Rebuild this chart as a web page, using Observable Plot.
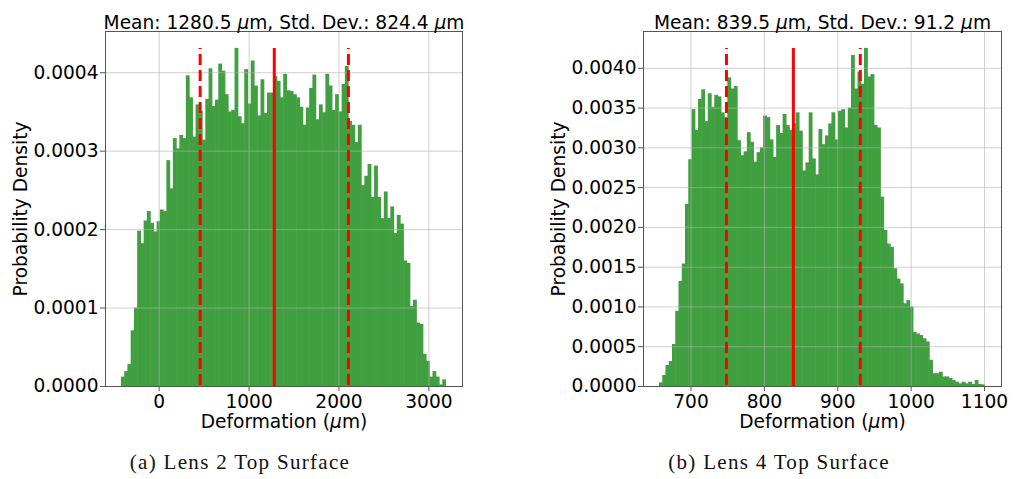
<!DOCTYPE html>
<html><head><meta charset="utf-8">
<script src="https://cdn.jsdelivr.net/npm/d3@7"></script>
<script src="https://cdn.jsdelivr.net/npm/@observablehq/plot@0.6"></script>
<style>
body{margin:0;background:#fff;}
#fig{position:relative;width:1013px;height:479px;overflow:hidden;background:#fff;}
.panel{position:absolute;top:0;}
.cap{position:absolute;top:452px;font-family:"Liberation Serif";font-size:21px;line-height:21px;letter-spacing:1.3px;transform:translateX(-50%);white-space:nowrap;color:#111;}
</style></head><body><div id="fig"></div>
<script>
// ---- Data ----
// Lens 2 Top Surface: histogram density, units of 1e-4 per µm, 100 equal bins
const lens2BinStart = -416, lens2BinEnd = 3193;
const lens2Density1e4 = [
 0.12,0.19,0.28,0.71,1.00,1.98,1.82,2.11,2.23,2.08,
 1.97,2.10,2.25,2.23,2.88,2.52,3.16,3.03,3.20,3.16,
 3.96,3.68,3.18,3.59,3.51,3.14,3.66,4.05,3.57,3.65,
 4.11,4.02,3.72,3.50,3.52,4.31,3.44,3.35,4.04,3.60,
 4.15,3.83,3.45,3.91,3.48,3.74,3.74,3.95,3.89,3.68,
 3.98,3.77,3.76,3.72,3.68,3.56,3.33,3.55,3.80,3.97,
 3.40,3.59,3.49,3.98,3.83,3.52,3.72,3.50,3.85,4.08,
 3.38,3.33,3.11,3.33,2.56,2.68,2.83,2.41,2.81,2.41,
 2.14,2.48,2.14,2.29,1.95,2.18,2.07,1.60,1.57,1.02,
 1.10,0.81,0.79,0.41,0.32,0.12,0.19,0.12,0.02,0.085];
const lens2Mean = 1280.5, lens2Std = 824.4;
const lens2XTicks = [0, 1000, 2000, 3000];
const lens2YTicks = [0, 0.0001, 0.0002, 0.0003, 0.0004];

// Lens 4 Top Surface: histogram density, units of 1e-3 per µm, 100 equal bins
const lens4BinStart = 657.4, lens4BinEnd = 1101;
const lens4Density1e3 = [
 0.046,0.138,0.264,0.314,0.528,0.946,1.32,1.54,2.29,2.85,
 3.48,3.22,3.61,3.73,3.33,3.68,3.51,3.66,3.64,3.44,
 3.38,3.88,3.74,3.77,3.09,2.90,2.95,3.19,3.07,2.82,
 2.94,3.00,3.40,3.38,3.10,2.88,3.28,3.18,3.42,3.28,
 3.22,3.30,3.44,3.21,2.71,2.81,3.44,2.86,2.66,3.23,
 3.04,3.15,3.30,3.44,3.10,3.46,3.48,3.25,3.50,4.16,
 3.74,3.95,3.80,4.25,3.89,3.92,3.28,3.25,2.38,1.96,
 1.79,1.75,1.48,1.35,1.29,1.04,1.08,1.00,0.68,0.66,
 0.64,0.60,0.56,0.33,0.16,0.16,0.18,0.12,0.12,0.10,
 0.075,0.054,0.034,0.054,0.034,0.054,0.025,0.075,0.025,0.021];
const lens4Mean = 839.5, lens4Std = 91.2;
const lens4XTicks = [700, 800, 900, 1000, 1100];
const lens4YTicks = [0, 0.0005, 0.0010, 0.0015, 0.0020, 0.0025, 0.0030, 0.0035, 0.0040];

const captions = ["(a) Lens 2 Top Surface", "(b) Lens 4 Top Surface"];

// ---- Drawing ----
const FS = 18.6;
function italicMu(svg) {
  const ns = "http://www.w3.org/2000/svg";
  svg.querySelectorAll("text").forEach(t => {
    if (!t.textContent.includes("μ") || t.children.length) return;
    const parts = t.textContent.split("μ");
    t.textContent = "";
    parts.forEach((p, i) => {
      if (i) { const ts = document.createElementNS(ns, "tspan"); ts.setAttribute("font-style", "italic"); ts.textContent = "μ"; t.appendChild(ts); }
      if (p) t.appendChild(document.createTextNode(p));
    });
  });
}

function panel({dens, lo, hi, mean, std, xTicks, yTicks, width, mLeft, mRight}) {
  const n = dens.length, w = (hi - lo) / n;
  const bins = dens.map((v, i) => ({x1: lo + i * w, x2: lo + (i + 1) * w, y: v}));
  const maxV = d3.max(dens), pad = 0.05 * (hi - lo);
  const title = `Mean: ${mean.toFixed(1)} μm, Std. Dev.: ${std.toFixed(1)} μm`;
  const grid = {stroke: "#b0b0b0", strokeOpacity: 0.6, strokeWidth: 1};
  const svg = Plot.plot({
    width, height: 435, marginLeft: mLeft, marginRight: mRight, marginTop: 31, marginBottom: 49,
    style: {fontFamily: "DejaVu Sans", fontSize: FS + "px", color: "#000", background: "transparent", overflow: "visible"},
    x: {domain: [lo - pad, hi + pad]},
    y: {domain: [0, maxV * 1.05]},
    marks: [
      Plot.rectY(bins, {x1: "x1", x2: "x2", y: "y", fill: "#40a040", insetLeft: -0.3, insetRight: -0.3}),
      Plot.gridX(xTicks, grid),
      Plot.gridY(yTicks, grid),
      Plot.ruleX([mean], {y1: 0, y2: maxV, stroke: "red", strokeWidth: 3}),
      Plot.ruleX([mean - std, mean + std], {y1: maxV, y2: 0, stroke: "red", strokeWidth: 3, strokeDasharray: "11,5", strokeDashoffset: 10}),
      Plot.frame({stroke: "#555", strokeWidth: 1}),
      Plot.axisX(xTicks, {tickSize: 5, tickPadding: 3, tickFormat: d3.format("d"), label: null, stroke: "#555", fontSize: FS}),
      Plot.axisY(yTicks, {tickSize: 5, tickPadding: 2, tickFormat: d3.format(".4f"), label: null, stroke: "#555", fontSize: FS}),
      Plot.text(["Deformation (μm)"], {frameAnchor: "bottom", dy: 41, fontSize: FS}),
      Plot.text(["Probability Density"], {frameAnchor: "left", textAnchor: "middle", dx: -84, rotate: -90, fontSize: FS}),
      Plot.text([title], {frameAnchor: "top", dy: -16, fontSize: FS})
    ]
  });
  italicMu(svg);
  return svg;
}

const fig = document.getElementById("fig");
const specs = [
  {dens: lens2Density1e4.map(v => v * 1e-4), lo: lens2BinStart, hi: lens2BinEnd, mean: lens2Mean, std: lens2Std,
   xTicks: lens2XTicks, yTicks: lens2YTicks, width: 506, mLeft: 105, mRight: 44, left: 0, capX: 240},
  {dens: lens4Density1e3.map(v => v * 1e-3), lo: lens4BinStart, hi: lens4BinEnd, mean: lens4Mean, std: lens4Std,
   xTicks: lens4XTicks, yTicks: lens4YTicks, width: 507, mLeft: 137, mRight: 12, left: 506, capX: 779}
];
specs.forEach((s, i) => {
  const div = document.createElement("div");
  div.className = "panel";
  div.style.left = s.left + "px";
  div.appendChild(panel(s));
  fig.appendChild(div);
  const cap = document.createElement("div");
  cap.className = "cap";
  cap.style.left = s.capX + "px";
  cap.textContent = captions[i];
  fig.appendChild(cap);
});
</script>
</body></html>
